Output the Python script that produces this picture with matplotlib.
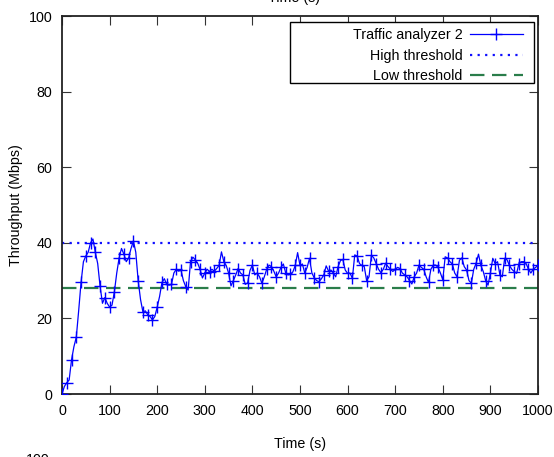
import numpy as np
import matplotlib
matplotlib.use("Agg")
import matplotlib.pyplot as plt
from matplotlib.patches import Rectangle

# ---- data ----
time_s = list(range(0, 1001, 5))
throughput = [
    0, 2, 3, 3.7, 9, 12.5, 15, 22, 29.5, 35,
    36.5, 37.5, 40, 41, 37.5, 34.5, 28.5, 24, 25.5, 24,
    23, 23.5, 27, 32, 36, 38.5, 37, 35, 36, 38.5,
    40.5, 37.5, 30, 25, 21.7, 22, 21, 20.5, 19.6, 20.5,
    23, 25.8, 29.5, 30.5, 29, 28.8, 29, 32, 33, 32.5,
    32.8, 30, 28.4, 27.5, 35, 36.2, 35.5, 34.6, 33, 30.7,
    32, 33, 32.4, 33, 32.5, 33.2, 34, 37.6, 35, 34,
    32, 28.6, 30, 31.5, 33.2, 32, 31.5, 29, 29.4, 32.7,
    34.1, 31.5, 32, 31, 29.3, 31, 33, 34.1, 33.7, 32.5,
    31, 32, 33.5, 34.4, 32, 31.5, 31.7, 32.3, 34, 37.4,
    34, 34.4, 32, 33.5, 35.9, 32, 30.7, 30, 29.7, 30.5,
    31.5, 33.9, 32.5, 32.8, 32, 31, 33.7, 35.3, 35.6, 32.8,
    31.9, 32, 30.6, 36.8, 36.5, 34.5, 34, 33.7, 30, 31,
    36.7, 36, 34.5, 33, 32.1, 33, 34.6, 33.7, 33, 32.4,
    33, 33.5, 33.2, 32, 31.5, 31, 30, 29.1, 31, 32,
    34.1, 33.5, 33, 31, 29.5, 33, 34.1, 34.1, 33.5, 32,
    30.2, 36.3, 36, 35, 34.4, 32, 31, 35.4, 36, 33.7,
    32.8, 30, 29.3, 33, 34.6, 37, 34, 32.4, 30, 28.8,
    32, 35.9, 34.5, 35, 31.5, 31, 35.9, 35.5, 34, 33,
    32.4, 31.9, 34.5, 35, 35, 34.5, 33, 32, 33, 33.5,
    34,
]
high_threshold = 40
low_threshold = 28
x_ticks = [0, 100, 200, 300, 400, 500, 600, 700, 800, 900, 1000]
y_ticks = [0, 20, 40, 60, 80, 100]

assert len(time_s) == len(throughput)

plt.rcParams['font.family'] = ['Liberation Sans', 'DejaVu Sans']
FS = 10.3

fig = plt.figure(figsize=(5.54, 4.57), dpi=100)
ax = fig.add_axes([62/554, 1-394/457, 476/554, 378/457])

ax.plot(time_s, throughput, color='#0000ff', lw=0.9, marker='+',
        markersize=8, markeredgewidth=1.0, markevery=2,
        label='Traffic analyzer 2', zorder=3)
ax.axhline(high_threshold, color='#1010ff', lw=1.6, linestyle=(0, (1, 2.4)),
           label='High threshold', zorder=2)
ax.axhline(low_threshold, color='#2a7d4a', lw=1.6, linestyle=(0, (6.5, 3.4)),
           label='Low threshold', zorder=2)

ax.set_xlim(0, 1000)
ax.set_ylim(0, 100)
ax.set_xticks(x_ticks)
ax.set_yticks(y_ticks)
ax.tick_params(direction='in', length=6.5, width=0.8, color='#333333',
               top=True, right=True, labelsize=FS, pad=7)
for s in ax.spines.values():
    s.set_linewidth(1.3)
    s.set_color('#222222')

ax.set_xlabel('Time (s)', fontsize=FS, labelpad=14)
ax.set_ylabel('Throughput (Mbps)', fontsize=FS, labelpad=4)

leg = ax.legend(loc='upper right', bbox_to_anchor=(0.977, 0.979),
                fontsize=FS, markerfirst=False, handlelength=3.7,
                labelspacing=0.45, borderpad=0.3, handletextpad=0.5,
                frameon=False, borderaxespad=0)
for col in leg._legend_handle_box.get_children():
    col.align = 'right'
ax.add_patch(Rectangle((0.479, 0.823), 0.992 - 0.479, 0.984 - 0.823,
                       transform=ax.transAxes, facecolor='white',
                       edgecolor='black', lw=1.0, zorder=4))
leg.set_zorder(5)

# partial texts from neighbouring panels (cropped in the reference)
fig.text(0.53, 1 - 5/457, 'Time (s)', fontsize=FS, ha='center', va='bottom')
fig.text(0.09, 4/457, '100', fontsize=FS, ha='right', va='top')

fig.savefig('out.png', dpi=100)
